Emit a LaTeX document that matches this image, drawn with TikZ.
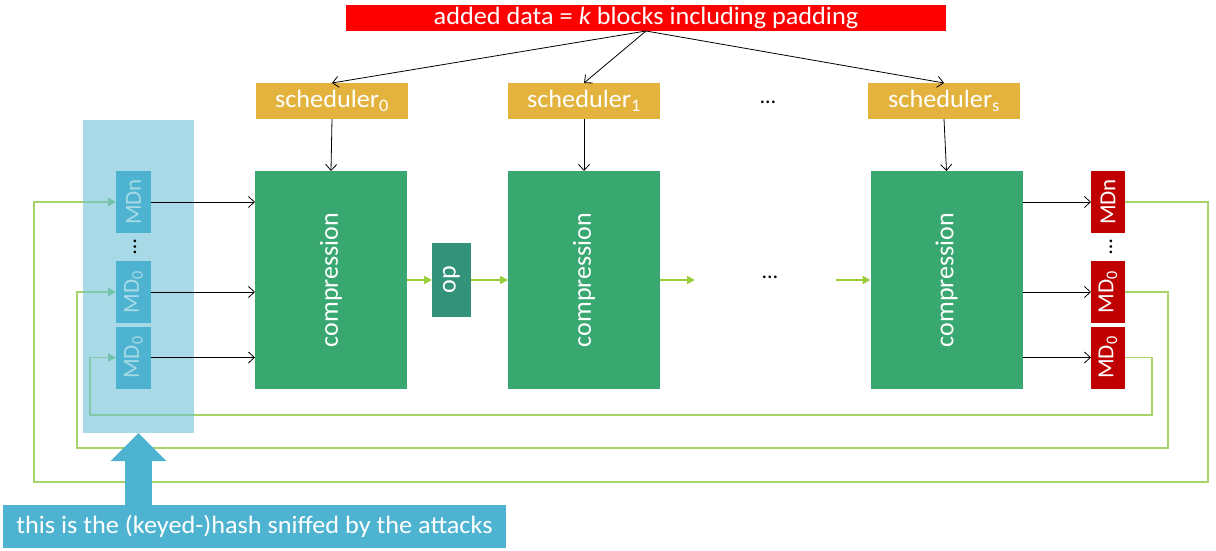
\documentclass[tikz,border=0pt]{standalone}
\usepackage{fontspec}
\setmainfont{Carlito}
\usetikzlibrary{arrows.meta}
\definecolor{bannerred}{RGB}{255,0,0}
\definecolor{schedc}{RGB}{227,179,62}
\definecolor{compc}{RGB}{56,168,112}
\definecolor{opc}{RGB}{51,147,122}
\definecolor{panelc}{RGB}{110,192,213}
\definecolor{mdblue}{RGB}{78,179,209}
\definecolor{mdtext}{RGB}{168,218,230}
\definecolor{mdred}{RGB}{192,0,0}
\definecolor{fbc}{RGB}{166,212,106}
\definecolor{garrc}{RGB}{154,205,60}
\definecolor{headc}{RGB}{120,195,110}
\newcommand{\hs}[1]{\scalebox{1.05}[1]{#1}}
\newcommand{\fs}{\fontsize{25}{28}\selectfont}
\begin{document}
\begin{tikzpicture}[x=1pt,y=-1pt,
  box/.style={inner sep=0pt, outer sep=0pt},
  banner/.style={box, fill=bannerred, minimum width=600pt, minimum height=26pt, text=white, font=\fs},
  sched/.style={box, fill=schedc, minimum width=152pt, minimum height=36pt, text=white, font=\fs},
  comp/.style={box, fill=compc, minimum width=152pt, minimum height=218pt, text=white},
  opbox/.style={box, fill=opc, minimum width=39pt, minimum height=74pt, text=white},
  mdl/.style={box, fill=mdblue, minimum width=35pt, minimum height=62pt, text=mdtext},
  mdr/.style={box, fill=mdred, minimum width=34pt, minimum height=62pt, text=white},
  blk/.style={draw=black, line width=0.8pt, -{Straight Barb[length=6pt,width=11pt]}},
  garr/.style={draw=garrc, line width=2pt, -{Triangle[length=8pt,width=8pt]}},
  fb/.style={draw=fbc, line width=1.5pt},
  fbarr/.style={fb, -{Triangle[length=8pt,width=8pt,color=headc]}},
  dots/.style={box, font=\fontsize{22}{22}\selectfont}
]
\useasboundingbox (0,0) rectangle (1216,551);

% top banner and schedulers
\node[banner] (banner) at (646,18) {\hs{added data = \textit{k} blocks including padding}};
\node[sched] (s0) at (332,101) {\hs{scheduler\textsubscript{0}}};
\node[sched] (s1) at (584,101) {\hs{scheduler\textsubscript{1}}};
\node[sched] (ss) at (944,101) {\hs{scheduler\textsubscript{s}}};
\node[dots] (sdots) at (768,102) {…};

% compression boxes
\node[comp] (c1) at (331,280) {\rotatebox{90}{\fontsize{26}{30}\selectfont compression}};
\node[comp] (c2) at (584,280) {\rotatebox{90}{\fontsize{26}{30}\selectfont compression}};
\node[comp] (c3) at (946.5,280) {\rotatebox{90}{\fontsize{26}{30}\selectfont compression}};
\node[opbox] (op) at (451.5,280) {\rotatebox{90}{\fontsize{26}{30}\selectfont op}};
\node[dots] (cdots) at (770,277) {…};
\coordinate (g1) at (695,280);
\coordinate (g2) at (836,280);

% arrows banner -> schedulers -> compression
\draw[blk] (banner.south) -- (s0.north);
\draw[blk] (banner.south) -- (s1.north);
\draw[blk] (banner.south) -- (ss.north);
\draw[blk] (s0.south) -- (c1.north);
\draw[blk] (s1.south) -- (c2.north);
\draw[blk] (ss.south) -- (c3.north);

% green chain
\draw[garr] (c1.east) -- (op.west);
\draw[garr] (op.east) -- (c2.west);
\draw[garr] (c2.east) -- (g1);
\draw[garr] (g2) -- (c3.west);

% right MD boxes
\node[mdr] (rn) at (1108,202) {\rotatebox{90}{\fontsize{23}{26}\selectfont MDn}};
\node[mdr] (rm) at (1108,292) {\rotatebox{90}{\fontsize{23}{26}\selectfont MD\textsubscript{0}}};
\node[mdr] (rl) at (1108,357.5) {\rotatebox{90}{\fontsize{23}{26}\selectfont MD\textsubscript{0}}};
\node[dots] (rdots) at (1111,247) {\rotatebox{90}{…}};

% feedback coordinates
\coordinate (f1a) at (1208,482);
\coordinate (f1b) at (34,482);
\coordinate (f2a) at (1168,448);
\coordinate (f2b) at (77,448);
\coordinate (f3a) at (1152,415);
\coordinate (f3b) at (90,415);
\coordinate (ln) at (116,202);
\coordinate (lm) at (116,292);
\coordinate (ll) at (116,357.5);

% feedback lines
\draw[fbarr] (rn.east) -| (f1a) -- (f1b) |- (ln);
\draw[fbarr] (rm.east) -| (f2a) -- (f2b) |- (lm);
\draw[fbarr] (rl.east) -| (f3a) -- (f3b) |- (ll);

% left panel
\node[box, fill=panelc, fill opacity=0.6, minimum width=111pt, minimum height=313pt] (panel) at (138.5,276.5) {};
\node[mdl] (mn) at (133.5,202) {\rotatebox{90}{\fontsize{23}{26}\selectfont MDn}};
\node[mdl] (mm) at (133.5,292) {\rotatebox{90}{\fontsize{23}{26}\selectfont MD\textsubscript{0}}};
\node[mdl] (ml) at (133.5,357.5) {\rotatebox{90}{\fontsize{23}{26}\selectfont MD\textsubscript{0}}};
\node[dots] (ldots) at (135,247) {\rotatebox{90}{…}};

% black arrows MD -> compression, compression -> MD
\draw[blk] (mn.east) -- (mn.east -| c1.west);
\draw[blk] (mm.east) -- (mm.east -| c1.west);
\draw[blk] (ml.east) -- (ml.east -| c1.west);
\draw[blk] (rn.west -| c3.east) -- (rn.west);
\draw[blk] (rm.west -| c3.east) -- (rm.west);
\draw[blk] (rl.west -| c3.east) -- (rl.west);

% bottom banner and big arrow
\node[box, fill=mdblue, minimum width=503pt, minimum height=43pt, text=white, font=\fs] (bb) at (254.5,526.5) {\hs{this is the (keyed-)hash sniffed by the attacks}};
\draw[draw=mdblue, line width=27pt, -{Triangle[length=28pt,width=54pt]}] (bb.north -| panel.south) -- (panel.south);
\end{tikzpicture}
\end{document}
